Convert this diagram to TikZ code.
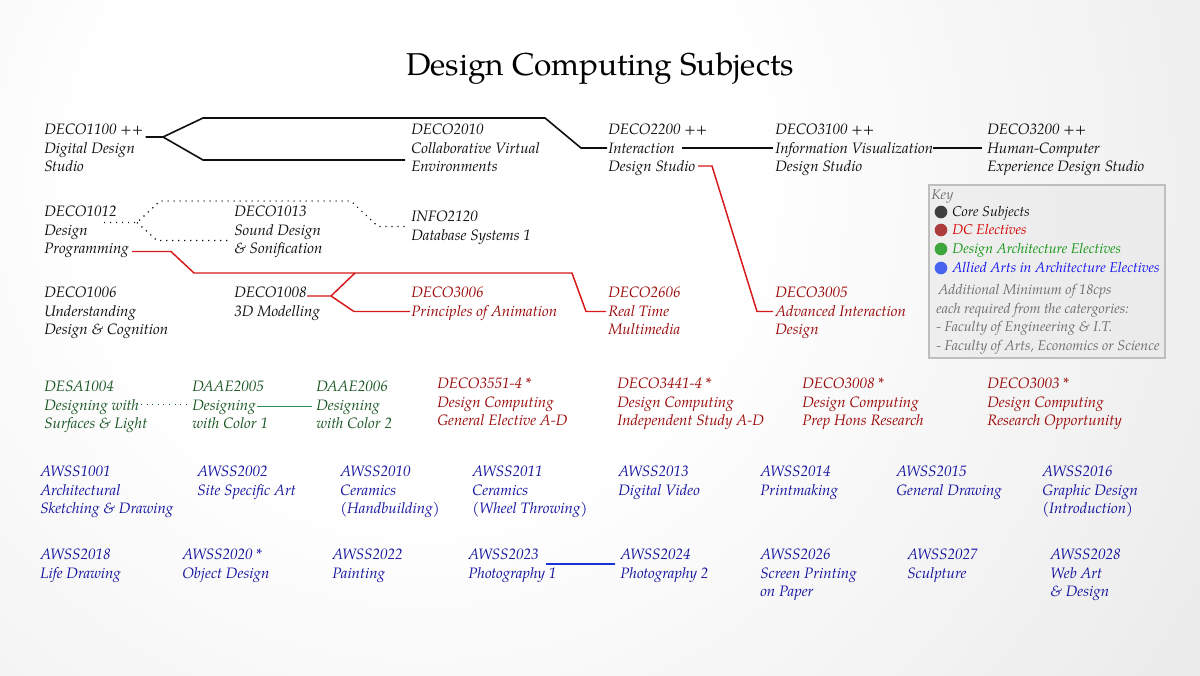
\documentclass[tikz,border=0pt]{standalone}
\usepackage{fontspec}
\setmainfont{texgyrepagella}[Extension=.otf, UprightFont=*-regular,
  ItalicFont=*-italic, BoldFont=*-bold, BoldItalicFont=*-bolditalic]
\usepackage{xcolor}
\usepackage{tikz}
\usetikzlibrary{calc, positioning}
\definecolor{corecolor}{RGB}{15,15,15}
\definecolor{dccolor}{RGB}{155,10,10}
\definecolor{archcolor}{RGB}{25,85,35}
\definecolor{artscolor}{RGB}{20,20,160}
\definecolor{dclinecolor}{RGB}{215,25,25}
\definecolor{archlinecolor}{RGB}{46,139,87}
\definecolor{artslinecolor}{RGB}{25,50,215}
\definecolor{keyborder}{RGB}{190,190,190}
\definecolor{keyfill}{RGB}{232,232,232}
\definecolor{keygray}{RGB}{110,110,110}
\definecolor{keycore}{RGB}{64,64,64}
\definecolor{keydc}{RGB}{175,60,60}
\definecolor{keyarch}{RGB}{60,165,60}
\definecolor{keyarts}{RGB}{70,100,240}
\definecolor{keydctext}{RGB}{215,0,0}
\definecolor{keyarchtext}{RGB}{20,150,20}
\definecolor{keyartstext}{RGB}{20,20,240}
\definecolor{bgedge}{RGB}{214,214,214}
\pgfdeclareradialshading{slidebg}{\pgfpoint{0bp}{0bp}}{%
  color(0bp)=(white); color(5bp)=(white); color(24bp)=(bgedge);
  color(50bp)=(bgedge)}
\newcommand{\subjfont}{\fontsize{11.3}{13.9}\selectfont\itshape}
\newcommand{\keyfont}{\fontsize{10.6}{13.9}\selectfont\itshape}
% lines of a subject, baseline on the first line
\newcommand{\stack}[1]{\vtop{\let\\\cr\halign{##\hfil\cr#1\crcr}}}
\tikzset{
  subject/.style={anchor=base west, inner sep=0pt, font=\subjfont, text=#1},
  subject/.default=corecolor,
  coreline/.style={draw=corecolor, line width=1.2pt},
  coredots/.style={draw=corecolor, line width=0.9pt,
                   dash pattern=on 0.9pt off 3.6pt},
  dcline/.style={draw=dclinecolor, line width=1.1pt},
  archline/.style={draw=archlinecolor, line width=1.4pt},
  archdots/.style={draw=archcolor, line width=0.8pt,
                   dash pattern=on 0.8pt off 3.4pt},
  artsline/.style={draw=artslinecolor, line width=1.1pt},
  keydot/.style={circle, fill=#1, inner sep=0pt, minimum size=9.5pt},
  keytext/.style={anchor=base west, inner sep=0pt, font=\keyfont, text=#1},
}

\begin{document}
\begin{tikzpicture}[x=0.75pt, y=-0.75pt]

  % --- Background ---
  \useasboundingbox (0,0) rectangle (1200,675);
  \begin{scope}
    \clip (0,0) rectangle (1200,675);
    \shade[shading=slidebg] (420,180) circle [radius=1200pt];
  \end{scope}

  % --- Title ---
  \node[font=\fontsize{23.7}{28}\selectfont, anchor=base] (title)
    at (600,75) {Design Computing Subjects};

  % --- Core studios ---
  \node[subject] (d1100) at (44,134.5) {\stack{DECO1100 ++\\Digital Design\\Studio}};
  \node[subject] (d2010) at (411,134.5)
    {\stack{DECO2010\\Collaborative Virtual\\Environments}};
  \node[subject] (d2200) at (608,134.5)
    {\stack{DECO2200 ++\\Interaction\\Design Studio}};
  \node[subject] (d3100) at (775,134.5)
    {\stack{DECO3100 ++\\Information Visualization\\Design Studio}};
  \node[subject] (d3200) at (987,134.5)
    {\stack{DECO3200 ++\\Human-Computer\\Experience Design Studio}};

  % --- Programming / sound ---
  \node[subject] (d1012) at (44,216.5) {\stack{DECO1012\\Design\\Programming}};
  \node[subject] (d1013) at (234,216.5)
    {\stack{DECO1013\\Sound Design\\\& Sonification}};
  \node[subject] (i2120) at (411,221.5) {\stack{INFO2120\\Database Systems 1}};

  % --- Cognition / modelling ---
  \node[subject] (d1006) at (44,297.5)
    {\stack{DECO1006\\Understanding\\Design \& Cognition}};
  \node[subject] (d1008) at (234,297.5) {\stack{DECO1008\\3D Modelling}};
  \node[subject=dccolor] (d3006) at (411,297.5)
    {\stack{DECO3006\\Principles of Animation}};
  \node[subject=dccolor] (d2606) at (608,297.5)
    {\stack{DECO2606\\Real Time\\Multimedia}};
  \node[subject=dccolor] (d3005) at (775,297.5)
    {\stack{DECO3005\\Advanced Interaction\\Design}};

  % --- Design architecture electives ---
  \node[subject=archcolor] (desa1004) at (44,391.5)
    {\stack{DESA1004\\Designing with\\Surfaces \& Light}};
  \node[subject=archcolor] (daae2005) at (192,391.5)
    {\stack{DAAE2005\\Designing\\with Color 1}};
  \node[subject=archcolor] (daae2006) at (316,391.5)
    {\stack{DAAE2006\\Designing\\with Color 2}};

  % --- DC electives ---
  \node[subject=dccolor] (d3551) at (437,388.5)
    {\stack{DECO3551-4 *\\Design Computing\\General Elective A-D}};
  \node[subject=dccolor] (d3441) at (617,388.5)
    {\stack{DECO3441-4 *\\Design Computing\\Independent Study A-D}};
  \node[subject=dccolor] (d3008) at (802,388.5)
    {\stack{DECO3008 *\\Design Computing\\Prep Hons Research}};
  \node[subject=dccolor] (d3003) at (987,388.5)
    {\stack{DECO3003 *\\Design Computing\\Research Opportunity}};

  % --- Allied arts, first row ---
  \node[subject=artscolor] (a1001) at (40,476.5)
    {\stack{AWSS1001\\Architectural\\Sketching \& Drawing}};
  \node[subject=artscolor] (a2002) at (197,476.5)
    {\stack{AWSS2002\\Site Specific Art}};
  \node[subject=artscolor] (a2010) at (340,476.5)
    {\stack{AWSS2010\\Ceramics\\(Handbuilding)}};
  \node[subject=artscolor] (a2011) at (472,476.5)
    {\stack{AWSS2011\\Ceramics\\(Wheel Throwing)}};
  \node[subject=artscolor] (a2013) at (618,476.5) {\stack{AWSS2013\\Digital Video}};
  \node[subject=artscolor] (a2014) at (760,476.5) {\stack{AWSS2014\\Printmaking}};
  \node[subject=artscolor] (a2015) at (896,476.5)
    {\stack{AWSS2015\\General Drawing}};
  \node[subject=artscolor] (a2016) at (1042,476.5)
    {\stack{AWSS2016\\Graphic Design\\(Introduction)}};

  % --- Allied arts, second row ---
  \node[subject=artscolor] (a2018) at (40,559.5) {\stack{AWSS2018\\Life Drawing}};
  \node[subject=artscolor] (a2020) at (182,559.5)
    {\stack{AWSS2020 *\\Object Design}};
  \node[subject=artscolor] (a2022) at (332,559.5) {\stack{AWSS2022\\Painting}};
  \node[subject=artscolor] (a2023) at (468,559.5) {\stack{AWSS2023\\Photography 1}};
  \node[subject=artscolor] (a2024) at (620,559.5) {\stack{AWSS2024\\Photography 2}};
  \node[subject=artscolor] (a2026) at (760,559.5)
    {\stack{AWSS2026\\Screen Printing\\on Paper}};
  \node[subject=artscolor] (a2027) at (907,559.5) {\stack{AWSS2027\\Sculpture}};
  \node[subject=artscolor] (a2028) at (1050,559.5)
    {\stack{AWSS2028\\Web Art\\\& Design}};

  % --- Key ---
  \node[draw=keyborder, line width=1.3pt, fill=keyfill, fill opacity=0.6,
        anchor=north west, inner sep=0pt, minimum width=177pt,
        minimum height=129.75pt] (keybox) at (928,184) {};
  \node[keytext=keygray] (keyhead) at (931,199.5) {Key};
  \node[keydot=keycore] (dotcore) at (941,212) {};
  \node[keydot=keydc] (dotdc) at (941,230) {};
  \node[keydot=keyarch] (dotarch) at (941,249) {};
  \node[keydot=keyarts] (dotarts) at (941,268) {};
  \node[keytext=corecolor] (keycoretxt) at (952,216.5) {Core Subjects};
  \node[keytext=keydctext] (keydctxt) at (952,234.5) {DC Electives};
  \node[keytext=keyarchtext] (keyarchtxt) at (952,253.5)
    {Design Architecture Electives};
  \node[keytext=keyartstext] (keyartstxt) at (952,272.5)
    {Allied Arts in Architecture Electives};
  \node[keytext=keygray] (keynote) at (936,294.5)
    {\stack{\hspace{1.5pt}Additional Minimum of 18cps\\
            each required from the catergories:\\
            - Faculty of Engineering \& I.T.\\
            - Faculty of Arts, Economics or Science}};

  % --- Core connectors ---
  \coordinate (fork1100) at (163,137);
  \draw[coreline] ([shift={(2,2.5)}]d1100.base east) -- (fork1100)
    -- (203,118) -- (545,118) -- (581,148)
    -- ([shift={(-1,13.5)}]d2200.base west);
  \draw[coreline] (fork1100) -- (203,160)
    -- ([shift={(-6,25.5)}]d2010.base west);
  \draw[coreline] ([shift={(74,13.5)}]d2200.base west)
    -- ([shift={(-2,13.5)}]d3100.base west);
  \draw[coreline] ([shift={(0,13.5)}]d3100.base east)
    -- ([shift={(-5,13.5)}]d3200.base west);

  % --- Dotted connectors ---
  \coordinate (fork1012) at (137,222.5);
  \draw[coredots] ([shift={(60,6)}]d1012.base west) -- (fork1012)
    -- (160,201) -- (351,201) -- (378,226.5)
    -- ([shift={(-4,5)}]i2120.base west);
  \draw[coredots] (fork1012) -- (157,240.5)
    -- ([shift={(-2,24)}]d1013.base west);

  % --- DC elective connectors ---
  \draw[dcline] ([shift={(90,31.5)}]d2200.base west) -- (712,166)
    -- (757,311.5) -- ([shift={(-2,14)}]d3005.base west);
  \coordinate (join1008) at (355,273);
  \draw[dcline] ([shift={(3,35)}]d1012.base east) -- (171,251.5)
    -- (194,273) -- (join1008) -- (572,273) -- (586,311.5)
    -- ([shift={(-2,14)}]d2606.base west);
  \coordinate (fork1008) at (331,296);
  \draw[dcline] ([shift={(73,-1.5)}]d1008.base west) -- (fork1008)
    -- (join1008);
  \draw[dcline] (fork1008) -- (354,311.5)
    -- ([shift={(-1,14)}]d3006.base west);

  % --- Elective connectors ---
  \draw[archdots] ([shift={(97,13)}]desa1004.base west)
    -- ([shift={(-3,13)}]daae2005.base west);
  \draw[archline] ([shift={(65,15)}]daae2005.base west)
    -- ([shift={(-4,15)}]daae2006.base west);
  \draw[artsline] ([shift={(78,4.5)}]a2023.base west)
    -- ([shift={(-5,4.5)}]a2024.base west);

\end{tikzpicture}
\end{document}
